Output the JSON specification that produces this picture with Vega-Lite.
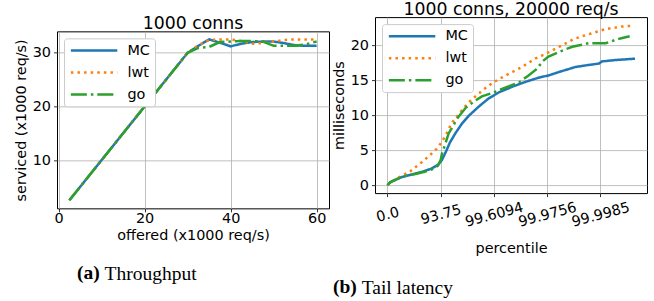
{
  "$schema": "https://vega.github.io/schema/vega-lite/v6.json",
  "background": "white",
  "padding": {"left": 12, "top": 0, "right": 0, "bottom": 0},
  "spacing": 0,
  "center": true,
  "config": {
    "font": "DejaVu Sans",
    "view": {"stroke": "black", "strokeWidth": 1},
    "axis": {
      "grid": true, "gridColor": "#b0b0b0", "gridWidth": 0.8,
      "domain": false,
      "tickColor": "black", "tickSize": 3.5, "tickWidth": 0.8,
      "labelFont": "DejaVu Sans", "labelFontSize": 14.4, "labelColor": "black",
      "labelPadding": 3, "labelFlush": false, "labelOverlap": false, "labelBound": false,
      "titleFont": "DejaVu Sans", "titleFontSize": 14.4, "titleFontWeight": "normal", "titleColor": "black",
      "titlePadding": 4
    },
    "axisX": {"labelPadding": -0.5},
    "title": {"font": "DejaVu Sans", "fontSize": 17.3, "fontWeight": "normal", "color": "black", "offset": -1},
    "legend": {
      "orient": "top-left", "offset": 7, "title": null,
      "fillColor": "white", "strokeColor": "#cccccc", "padding": 5, "cornerRadius": 3,
      "labelFont": "DejaVu Sans", "labelFontSize": 14.4, "labelColor": "black", "labelOffset": 44,
      "symbolType": "M-1,0H7.7", "symbolSize": 114, "symbolStrokeWidth": 2.5, "rowPadding": 7
    }
  },
  "datasets": {
    "thr": [
      {"impl": "MC", "offered": 2.5, "serviced": 2.5}, {"impl": "MC", "offered": 5, "serviced": 5}, {"impl": "MC", "offered": 7.5, "serviced": 7.5}, {"impl": "MC", "offered": 10, "serviced": 10}, {"impl": "MC", "offered": 12.5, "serviced": 12.5}, {"impl": "MC", "offered": 15, "serviced": 15}, {"impl": "MC", "offered": 17.5, "serviced": 17.5}, {"impl": "MC", "offered": 20, "serviced": 20}, {"impl": "MC", "offered": 22.5, "serviced": 22.5}, {"impl": "MC", "offered": 25, "serviced": 25}, {"impl": "MC", "offered": 27.5, "serviced": 27.5}, {"impl": "MC", "offered": 30, "serviced": 30}, {"impl": "MC", "offered": 32.5, "serviced": 31.3}, {"impl": "MC", "offered": 35, "serviced": 32.5}, {"impl": "MC", "offered": 37.5, "serviced": 31.9}, {"impl": "MC", "offered": 40, "serviced": 31.2}, {"impl": "MC", "offered": 42.5, "serviced": 31.7}, {"impl": "MC", "offered": 45, "serviced": 32.0}, {"impl": "MC", "offered": 47.5, "serviced": 32.1}, {"impl": "MC", "offered": 50, "serviced": 32.1}, {"impl": "MC", "offered": 52.5, "serviced": 31.8}, {"impl": "MC", "offered": 55, "serviced": 31.4}, {"impl": "MC", "offered": 57.5, "serviced": 31.3}, {"impl": "MC", "offered": 60, "serviced": 31.3},
      {"impl": "lwt", "offered": 2.5, "serviced": 2.5}, {"impl": "lwt", "offered": 5, "serviced": 5}, {"impl": "lwt", "offered": 7.5, "serviced": 7.5}, {"impl": "lwt", "offered": 10, "serviced": 10}, {"impl": "lwt", "offered": 12.5, "serviced": 12.5}, {"impl": "lwt", "offered": 15, "serviced": 15}, {"impl": "lwt", "offered": 17.5, "serviced": 17.5}, {"impl": "lwt", "offered": 20, "serviced": 20}, {"impl": "lwt", "offered": 22.5, "serviced": 22.5}, {"impl": "lwt", "offered": 25, "serviced": 25}, {"impl": "lwt", "offered": 27.5, "serviced": 27.5}, {"impl": "lwt", "offered": 30, "serviced": 30}, {"impl": "lwt", "offered": 32.5, "serviced": 31.4}, {"impl": "lwt", "offered": 35, "serviced": 32.4}, {"impl": "lwt", "offered": 37.5, "serviced": 32.5}, {"impl": "lwt", "offered": 40, "serviced": 32.5}, {"impl": "lwt", "offered": 42.5, "serviced": 32.2}, {"impl": "lwt", "offered": 45, "serviced": 31.7}, {"impl": "lwt", "offered": 47.5, "serviced": 31.8}, {"impl": "lwt", "offered": 50, "serviced": 32.1}, {"impl": "lwt", "offered": 52.5, "serviced": 32.4}, {"impl": "lwt", "offered": 55, "serviced": 32.5}, {"impl": "lwt", "offered": 57.5, "serviced": 32.5}, {"impl": "lwt", "offered": 60, "serviced": 32.5},
      {"impl": "go", "offered": 2.5, "serviced": 2.5}, {"impl": "go", "offered": 5, "serviced": 5}, {"impl": "go", "offered": 7.5, "serviced": 7.5}, {"impl": "go", "offered": 10, "serviced": 10}, {"impl": "go", "offered": 12.5, "serviced": 12.5}, {"impl": "go", "offered": 15, "serviced": 15}, {"impl": "go", "offered": 17.5, "serviced": 17.5}, {"impl": "go", "offered": 20, "serviced": 20}, {"impl": "go", "offered": 22.5, "serviced": 22.5}, {"impl": "go", "offered": 25, "serviced": 25}, {"impl": "go", "offered": 27.5, "serviced": 27.5}, {"impl": "go", "offered": 30, "serviced": 30}, {"impl": "go", "offered": 32.5, "serviced": 30.9}, {"impl": "go", "offered": 35, "serviced": 31.1}, {"impl": "go", "offered": 37.5, "serviced": 32.0}, {"impl": "go", "offered": 40, "serviced": 32.1}, {"impl": "go", "offered": 42.5, "serviced": 32.2}, {"impl": "go", "offered": 45, "serviced": 32.2}, {"impl": "go", "offered": 47.5, "serviced": 32.1}, {"impl": "go", "offered": 50, "serviced": 31.3}, {"impl": "go", "offered": 52.5, "serviced": 31.3}, {"impl": "go", "offered": 55, "serviced": 31.3}, {"impl": "go", "offered": 57.5, "serviced": 31.6}, {"impl": "go", "offered": 60, "serviced": 32.1}
    ],
    "lat": [
      {"impl": "MC", "bits": 0, "ms": 0}, {"impl": "MC", "bits": 0.2, "ms": 0.4}, {"impl": "MC", "bits": 0.45, "ms": 0.6}, {"impl": "MC", "bits": 1.0, "ms": 1.1}, {"impl": "MC", "bits": 1.8, "ms": 1.5}, {"impl": "MC", "bits": 2.6, "ms": 1.9}, {"impl": "MC", "bits": 3.3, "ms": 2.35}, {"impl": "MC", "bits": 3.8, "ms": 2.9}, {"impl": "MC", "bits": 4.1, "ms": 3.6}, {"impl": "MC", "bits": 4.4, "ms": 4.8}, {"impl": "MC", "bits": 4.7, "ms": 6.1}, {"impl": "MC", "bits": 5.1, "ms": 7.4}, {"impl": "MC", "bits": 5.6, "ms": 8.8}, {"impl": "MC", "bits": 6.1, "ms": 9.9}, {"impl": "MC", "bits": 6.9, "ms": 11.3}, {"impl": "MC", "bits": 7.6, "ms": 12.4}, {"impl": "MC", "bits": 8.4, "ms": 13.3}, {"impl": "MC", "bits": 9.4, "ms": 14.1}, {"impl": "MC", "bits": 10.4, "ms": 14.8}, {"impl": "MC", "bits": 11.4, "ms": 15.4}, {"impl": "MC", "bits": 12.1, "ms": 15.7}, {"impl": "MC", "bits": 12.9, "ms": 16.2}, {"impl": "MC", "bits": 13.6, "ms": 16.6}, {"impl": "MC", "bits": 14.1, "ms": 16.9}, {"impl": "MC", "bits": 15.1, "ms": 17.2}, {"impl": "MC", "bits": 15.9, "ms": 17.4}, {"impl": "MC", "bits": 16.1, "ms": 17.7}, {"impl": "MC", "bits": 17.1, "ms": 17.9}, {"impl": "MC", "bits": 18.6, "ms": 18.1},
      {"impl": "lwt", "bits": 0, "ms": 0}, {"impl": "lwt", "bits": 0.6, "ms": 0.85}, {"impl": "lwt", "bits": 1.2, "ms": 1.45}, {"impl": "lwt", "bits": 1.7, "ms": 1.95}, {"impl": "lwt", "bits": 2.2, "ms": 2.7}, {"impl": "lwt", "bits": 2.7, "ms": 3.45}, {"impl": "lwt", "bits": 3.2, "ms": 4.3}, {"impl": "lwt", "bits": 3.7, "ms": 5.2}, {"impl": "lwt", "bits": 4.1, "ms": 6.2}, {"impl": "lwt", "bits": 4.45, "ms": 7.4}, {"impl": "lwt", "bits": 4.8, "ms": 8.8}, {"impl": "lwt", "bits": 5.3, "ms": 10.0}, {"impl": "lwt", "bits": 5.8, "ms": 11.2}, {"impl": "lwt", "bits": 6.3, "ms": 12.2}, {"impl": "lwt", "bits": 6.8, "ms": 13.0}, {"impl": "lwt", "bits": 7.3, "ms": 13.8}, {"impl": "lwt", "bits": 7.8, "ms": 14.5}, {"impl": "lwt", "bits": 8.4, "ms": 15.2}, {"impl": "lwt", "bits": 8.9, "ms": 15.7}, {"impl": "lwt", "bits": 9.5, "ms": 16.3}, {"impl": "lwt", "bits": 10.1, "ms": 16.9}, {"impl": "lwt", "bits": 10.6, "ms": 17.5}, {"impl": "lwt", "bits": 11.1, "ms": 18.1}, {"impl": "lwt", "bits": 11.8, "ms": 18.7}, {"impl": "lwt", "bits": 12.4, "ms": 19.3}, {"impl": "lwt", "bits": 12.9, "ms": 19.8}, {"impl": "lwt", "bits": 13.4, "ms": 20.3}, {"impl": "lwt", "bits": 14.0, "ms": 20.9}, {"impl": "lwt", "bits": 14.6, "ms": 21.3}, {"impl": "lwt", "bits": 15.3, "ms": 21.7}, {"impl": "lwt", "bits": 15.9, "ms": 22.05}, {"impl": "lwt", "bits": 16.4, "ms": 22.35}, {"impl": "lwt", "bits": 17.0, "ms": 22.5}, {"impl": "lwt", "bits": 17.6, "ms": 22.7}, {"impl": "lwt", "bits": 18.3, "ms": 22.8},
      {"impl": "go", "bits": 0, "ms": 0}, {"impl": "go", "bits": 0.3, "ms": 0.5}, {"impl": "go", "bits": 0.6, "ms": 0.8}, {"impl": "go", "bits": 1.3, "ms": 1.3}, {"impl": "go", "bits": 2.1, "ms": 1.6}, {"impl": "go", "bits": 2.8, "ms": 1.9}, {"impl": "go", "bits": 3.4, "ms": 2.3}, {"impl": "go", "bits": 3.8, "ms": 2.8}, {"impl": "go", "bits": 4.0, "ms": 3.6}, {"impl": "go", "bits": 4.1, "ms": 4.5}, {"impl": "go", "bits": 4.3, "ms": 5.6}, {"impl": "go", "bits": 4.6, "ms": 7.4}, {"impl": "go", "bits": 5.0, "ms": 8.7}, {"impl": "go", "bits": 5.3, "ms": 9.7}, {"impl": "go", "bits": 5.9, "ms": 11.1}, {"impl": "go", "bits": 6.6, "ms": 12.1}, {"impl": "go", "bits": 7.1, "ms": 12.7}, {"impl": "go", "bits": 7.9, "ms": 13.2}, {"impl": "go", "bits": 8.9, "ms": 14.0}, {"impl": "go", "bits": 9.9, "ms": 14.7}, {"impl": "go", "bits": 10.6, "ms": 15.7}, {"impl": "go", "bits": 11.2, "ms": 16.6}, {"impl": "go", "bits": 11.7, "ms": 17.8}, {"impl": "go", "bits": 12.1, "ms": 18.4}, {"impl": "go", "bits": 12.7, "ms": 18.9}, {"impl": "go", "bits": 13.3, "ms": 19.4}, {"impl": "go", "bits": 13.9, "ms": 19.8}, {"impl": "go", "bits": 14.6, "ms": 20.1}, {"impl": "go", "bits": 15.1, "ms": 20.3}, {"impl": "go", "bits": 16.4, "ms": 20.3}, {"impl": "go", "bits": 17.0, "ms": 20.7}, {"impl": "go", "bits": 17.5, "ms": 21.0}, {"impl": "go", "bits": 18.2, "ms": 21.3}
    ]
  },
  "hconcat": [
    {
      "title": {"text": "(a)", "orient": "bottom", "frame": "group", "anchor": "start", "dx": 20, "offset": -19.5, "font": "Liberation Serif", "fontSize": 19.5, "fontWeight": "bold", "color": "black"},
      "resolve": {"scale": {"color": "independent", "strokeDash": "independent"}, "legend": {"color": "independent", "strokeDash": "independent"}},
      "vconcat": [
        {
          "title": {"text": "Throughput", "orient": "bottom", "frame": "group", "anchor": "start", "dx": 47.6, "offset": 22.5, "font": "Liberation Serif", "fontSize": 19.5, "fontWeight": "normal", "color": "black"},
          "resolve": {"scale": {"color": "independent", "strokeDash": "independent"}, "legend": {"color": "independent", "strokeDash": "independent"}},
          "vconcat": [
            {
              "width": 272, "height": 177,
              "title": {"text": "1000 conns"},
              "data": {"name": "thr"},
              "mark": {"type": "line", "strokeWidth": 2.5, "strokeCap": "butt", "clip": true},
              "encoding": {
                "x": {"field": "offered", "type": "quantitative", "scale": {"domain": [-0.375, 62.875], "nice": false, "zero": false}, "axis": {"values": [0, 20, 40, 60], "title": "offered (x1000 req/s)"}},
                "y": {"field": "serviced", "type": "quantitative", "scale": {"domain": [1.0, 34.0], "nice": false, "zero": false}, "axis": {"values": [10, 20, 30], "title": "serviced (x1000 req/s)"}},
                "color": {"field": "impl", "type": "nominal", "scale": {"domain": ["MC", "lwt", "go"], "range": ["#1f77b4", "#ff7f0e", "#2ca02c"]}, "legend": {"title": null}},
                "strokeDash": {"field": "impl", "type": "nominal", "scale": {"domain": ["MC", "lwt", "go"], "range": [[1, 0], [2.5, 4.1], [16, 4, 2.5, 4]]}, "legend": {"title": null}}
              }
            }
          ]
        }
      ]
    },
    {
      "title": {"text": "(b)", "orient": "bottom", "frame": "group", "anchor": "start", "dx": -42, "offset": -19.5, "font": "Liberation Serif", "fontSize": 19.5, "fontWeight": "bold", "color": "black"},
      "resolve": {"scale": {"color": "independent", "strokeDash": "independent"}, "legend": {"color": "independent", "strokeDash": "independent"}},
      "vconcat": [
        {
          "title": {"text": "Tail latency", "orient": "bottom", "frame": "group", "anchor": "start", "dx": -13.3, "offset": 24, "font": "Liberation Serif", "fontSize": 19.5, "fontWeight": "normal", "color": "black"},
          "resolve": {"scale": {"color": "independent", "strokeDash": "independent"}, "legend": {"color": "independent", "strokeDash": "independent"}},
          "vconcat": [
            {
              "width": 272, "height": 176,
              "title": {"text": "1000 conns, 20000 req/s"},
              "data": {"name": "lat"},
              "mark": {"type": "line", "strokeWidth": 2.5, "strokeCap": "butt", "clip": true},
              "encoding": {
                "x": {"field": "bits", "type": "quantitative", "scale": {"domain": [-0.93, 19.5], "nice": false, "zero": false}, "axis": {"values": [0, 4, 8, 12, 16], "title": "percentile", "labelAngle": -15, "labelAlign": "center", "labelBaseline": "middle", "labelPadding": 18, "titlePadding": 13, "labelExpr": "datum.value == 0 ? '0.0' : datum.value == 4 ? '93.75' : datum.value == 8 ? '99.6094' : datum.value == 12 ? '99.9756' : '99.9985'"}},
                "y": {"field": "ms", "type": "quantitative", "scale": {"domain": [-1.145, 24.05], "nice": false, "zero": false}, "axis": {"values": [0, 5, 10, 15, 20], "title": "milliseconds"}},
                "color": {"field": "impl", "type": "nominal", "scale": {"domain": ["MC", "lwt", "go"], "range": ["#1f77b4", "#ff7f0e", "#2ca02c"]}, "legend": {"title": null}},
                "strokeDash": {"field": "impl", "type": "nominal", "scale": {"domain": ["MC", "lwt", "go"], "range": [[1, 0], [2.5, 4.1], [16, 4, 2.5, 4]]}, "legend": {"title": null}}
              }
            }
          ]
        }
      ]
    }
  ],
  "resolve": {"scale": {"color": "independent", "strokeDash": "independent"}, "legend": {"color": "independent", "strokeDash": "independent"}}
}
